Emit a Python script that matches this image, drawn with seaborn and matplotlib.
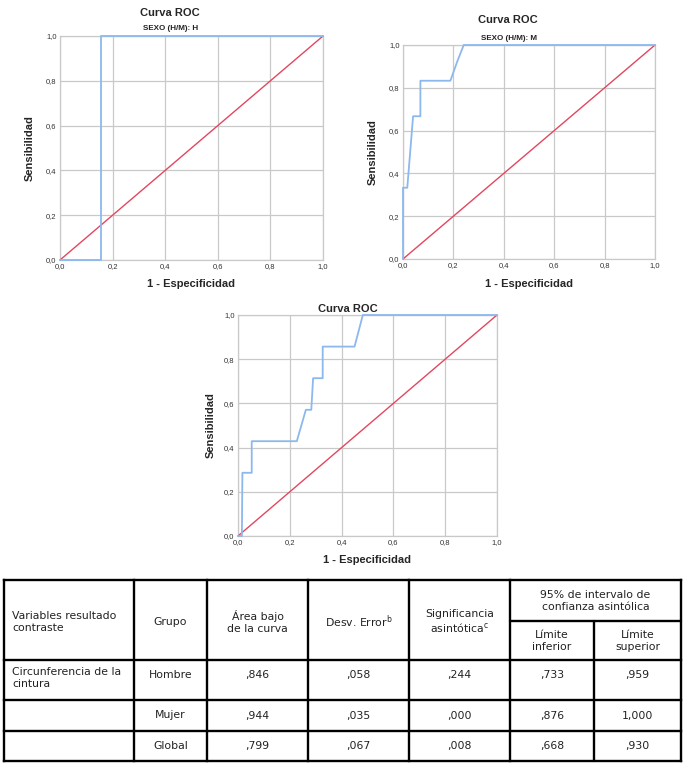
import matplotlib
matplotlib.use('Agg')
import matplotlib.pyplot as plt
import seaborn as sns
import pandas as pd

# Curvas ROC (1 - especificidad, sensibilidad)
fpr_hombre = [0.0, 0.154, 0.154, 1.0]
tpr_hombre = [0.0, 0.0, 1.0, 1.0]

fpr_mujer = [0.0, 0.0, 0.017, 0.04, 0.069, 0.069, 0.188, 0.215, 0.241, 1.0]
tpr_mujer = [0.0, 0.333, 0.333, 0.667, 0.667, 0.833, 0.833, 0.922, 1.0, 1.0]

fpr_global = [0.0, 0.015, 0.017, 0.053, 0.053, 0.227, 0.262, 0.283, 0.29, 0.327, 0.327, 0.45, 0.482, 1.0]
tpr_global = [0.0, 0.0, 0.286, 0.286, 0.429, 0.429, 0.571, 0.571, 0.714, 0.714, 0.857, 0.857, 1.0, 1.0]

diag = [0.0, 1.0]
ticks = [0.0, 0.2, 0.4, 0.6, 0.8, 1.0]
tick_labels = ["0,0", "0,2", "0,4", "0,6", "0,8", "1,0"]

# Tabla de resultados
col_headers = ["Variables resultado\ncontraste", "Grupo", "Área bajo\nde la curva",
               r"Desv. Error$^{\mathregular{b}}$", "Significancia\n" + r"asintótica$^{\mathregular{c}}$"]
ic_header = "95% de intervalo de\nconfianza asintólica"
ic_sub = ["Límite\ninferior", "Límite\nsuperior"]
variables = ["Circunferencia de la\ncintura", "", ""]
grupos = ["Hombre", "Mujer", "Global"]
area = [",846", ",944", ",799"]
desv_error = [",058", ",035", ",067"]
significancia = [",244", ",000", ",008"]
lim_inf = [",733", ",876", ",668"]
lim_sup = [",959", "1,000", ",930"]

W, H = 686, 765
azul = "#8cb8ee"
rojo = "#e2475f"

sns.set_style("whitegrid", {"grid.color": "#c9c9c9", "axes.edgecolor": "#c9c9c9"})
plt.rcParams["font.family"] = ["Liberation Sans", "DejaVu Sans"]

fig = plt.figure(figsize=(W / 100, H / 100), dpi=100)


def caja(x0, y0, x1, y1):
    return [x0 / W, 1 - y1 / H, (x1 - x0) / W, (y1 - y0) / H]


def ftxt(x, y, s, **kw):
    fig.text(x / W, 1 - y / H, s, **kw)


paneles = [
    (fpr_hombre, tpr_hombre, caja(60, 36, 323, 260), "SEXO (H/M): H", (170, 13), (171, 28), (30, 148), (191, 284)),
    (fpr_mujer, tpr_mujer, caja(403, 45, 655, 259), "SEXO (H/M): M", (508, 20), (509, 38), (373, 152), (529, 284)),
    (fpr_global, tpr_global, caja(238, 315, 497, 536), None, (348, 309), None, (211, 425), (367, 560)),
]

for fpr, tpr, pos, sub, tpos, spos, ylpos, xlpos in paneles:
    ax = fig.add_axes(pos)
    df = pd.DataFrame({"fpr": fpr, "tpr": tpr})
    sns.lineplot(data=df, x="fpr", y="tpr", ax=ax, color=azul, lw=1.3, sort=False, estimator=None, zorder=4)
    sns.lineplot(x=diag, y=diag, ax=ax, color=rojo, lw=1.0, sort=False, estimator=None, zorder=3)
    for ln in ax.lines:
        ln.set_clip_on(False)
    ax.set_xlim(0, 1)
    ax.set_ylim(0, 1)
    ax.set_xticks(ticks)
    ax.set_yticks(ticks)
    ax.set_xticklabels(tick_labels)
    ax.set_yticklabels(tick_labels)
    ax.tick_params(labelsize=5.5, colors="#333333", pad=2.5, length=0)
    ax.grid(True, lw=0.9)
    ax.set_xlabel("")
    ax.set_ylabel("")
    for s in ax.spines.values():
        s.set_linewidth(0.9)
        s.set_zorder(1)
    ftxt(*tpos, "Curva ROC", ha="center", va="center", fontsize=8, fontweight="bold")
    if sub:
        ftxt(*spos, sub, ha="center", va="center", fontsize=5.8, fontweight="bold", color="#222222")
    ftxt(*ylpos, "Sensibilidad", ha="center", va="center", rotation=90, fontsize=8, fontweight="bold")
    ftxt(*xlpos, "1 - Especificidad", ha="center", va="center", fontsize=8, fontweight="bold")

# Tabla dibujada en coordenadas de píxel
tab = fig.add_axes([0, 0, 1, 1])
tab.set_xlim(0, W)
tab.set_ylim(H, 0)
tab.axis("off")
xs = [4, 134, 207, 308, 409, 510, 594, 681]
y_top, y_sub, y_head, y_r1, y_r2, y_bot = 580, 621, 660, 700, 731, 761
lw = 1.7
for y in [y_top, y_head, y_r1, y_r2, y_bot]:
    tab.plot([xs[0], xs[-1]], [y, y], color="black", lw=lw, solid_capstyle="projecting")
tab.plot([xs[5], xs[-1]], [y_sub, y_sub], color="black", lw=lw)
for i, x in enumerate(xs):
    if i == 6:
        tab.plot([x, x], [y_sub, y_bot], color="black", lw=lw)
    else:
        tab.plot([x, x], [y_top, y_bot], color="black", lw=lw, solid_capstyle="projecting")

tfont = dict(fontsize=7.8, color="#222222", family=["DejaVu Sans"], linespacing=1.3)
tab.text(xs[0] + 8, 622, col_headers[0], ha="left", va="center", **tfont)
for j in range(1, 5):
    tab.text((xs[j] + xs[j + 1]) / 2, 622, col_headers[j], ha="center", va="center", **tfont)
tab.text((xs[5] + xs[7]) / 2, 601, ic_header, ha="center", va="center", **tfont)
for j in range(2):
    tab.text((xs[5 + j] + xs[6 + j]) / 2, 641, ic_sub[j], ha="center", va="center", **tfont)

row_y = [y_head + 15, (y_r1 + y_r2) / 2, (y_r2 + y_bot) / 2]
for i in range(3):
    if variables[i]:
        tab.text(xs[0] + 8, y_head + 7, variables[i], ha="left", va="top", **tfont)
    vals = [grupos[i], area[i], desv_error[i], significancia[i], lim_inf[i], lim_sup[i]]
    for j, v in enumerate(vals):
        tab.text((xs[j + 1] + xs[j + 2]) / 2, row_y[i], v, ha="center", va="center", **tfont)

fig.savefig("out.png", dpi=100)
